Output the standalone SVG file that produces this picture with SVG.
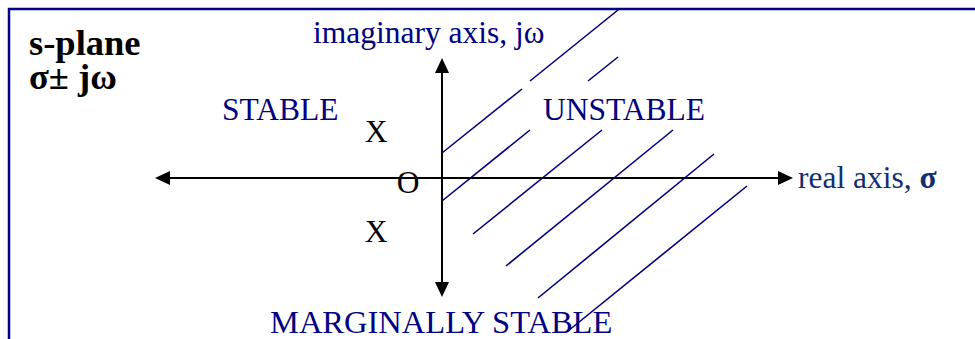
<svg xmlns="http://www.w3.org/2000/svg" width="975" height="339" viewBox="0 0 975 339">
  <style>
    .frame { fill: none; stroke: #000080; stroke-width: 2.5; }
    .axis { stroke: #000000; stroke-width: 2; fill: none; }
    .hatch { stroke: #000080; stroke-width: 1.6; fill: none; }
    .navy { fill: #000080; }
    .blk { fill: #000000; }
  </style>
  <defs>
    <marker id="arrow" viewBox="0 0 15 14" markerWidth="15" markerHeight="14" refX="7" refY="7" orient="auto-start-reverse" markerUnits="userSpaceOnUse">
      <path d="M0,0 L15,7 L0,14 Z" fill="#000000"/>
    </marker>
  </defs>
  <rect width="975" height="339" fill="#ffffff"/>
  <path class="frame" d="M9,339 L9,9 L975,9"/>

  <g id="hatching">
    <line class="hatch" x1="442" y1="153" x2="522" y2="89"/>
    <line class="hatch" x1="530" y1="81" x2="618" y2="10"/>
    <line class="hatch" x1="442" y1="201" x2="530" y2="130"/>
    <line class="hatch" x1="588" y1="81" x2="618" y2="57"/>
    <line class="hatch" x1="473" y1="234" x2="602" y2="130"/>
    <line class="hatch" x1="506" y1="266" x2="673" y2="130"/>
    <line class="hatch" x1="538" y1="298" x2="714" y2="154"/>
    <line class="hatch" x1="568" y1="331" x2="747" y2="186"/>
  </g>

  <g id="connectors">
    <line id="real-axis" class="axis" x1="163" y1="178" x2="785" y2="178" marker-start="url(#arrow)" marker-end="url(#arrow)"/>
    <line id="imag-axis" class="axis" x1="442" y1="66" x2="442" y2="289" marker-start="url(#arrow)" marker-end="url(#arrow)"/>
  </g>

  <g font-family="Liberation Serif, Times New Roman, DejaVu Serif, serif" font-size="31.5">
    <g id="title" font-size="36.5" font-weight="bold" fill="#000000">
      <text x="29" y="55">s-plane<tspan x="29" y="89">σ± jω</tspan></text>
    </g>
    <g id="imag-label">
      <text class="navy" x="313" y="43">imaginary axis, jω</text>
    </g>
    <g id="real-label">
      <text x="798" y="188" fill="#112f70">real axis, <tspan font-weight="bold">σ</tspan></text>
    </g>
    <g id="stable">
      <text class="navy" x="222" y="120">STABLE</text>
    </g>
    <g id="unstable">
      <text class="navy" x="543" y="120">UNSTABLE</text>
    </g>
    <g id="marginal">
      <text class="navy" x="270" y="333" font-size="32.5">MARGINALLY STABLE</text>
    </g>
    <g id="pole-upper">
      <text class="blk" x="376" y="142" text-anchor="middle">X</text>
    </g>
    <g id="zero">
      <text class="blk" x="408" y="193" text-anchor="middle">O</text>
    </g>
    <g id="pole-lower">
      <text class="blk" x="376" y="242" text-anchor="middle">X</text>
    </g>
  </g>
</svg>
